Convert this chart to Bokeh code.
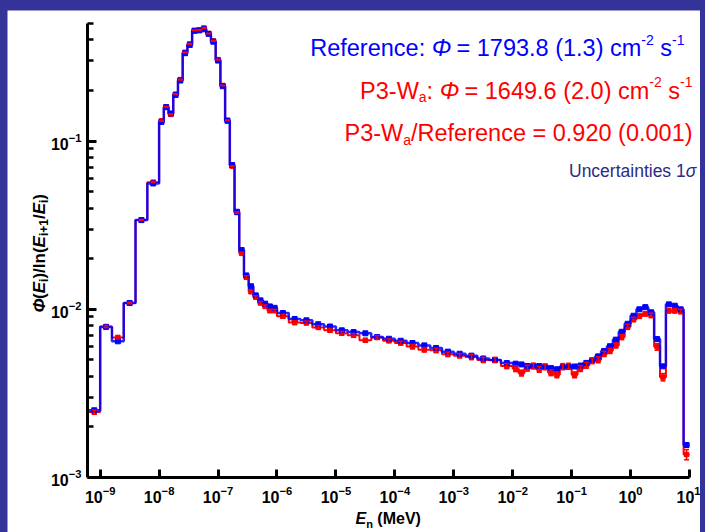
import math
from bokeh.plotting import figure
from bokeh.models import ColumnDataSource, FixedTicker, Label, Whisker, TeeHead, Range1d, LogAxis
from bokeh.layouts import column
from bokeh.embed import file_html
from bokeh.resources import INLINE

# ---------------- data ----------------
# group boundaries, log10(E / MeV)
edges_log10 = [
    -9.2, -9.0, -8.8, -8.6, -8.4, -8.2, -8.0,
    -7.92, -7.84, -7.76, -7.68, -7.60, -7.52, -7.44, -7.36, -7.28, -7.20,
    -7.12, -7.04, -6.96, -6.88, -6.80, -6.72, -6.64, -6.56, -6.48, -6.40,
    -6.32, -6.24, -6.16, -6.08, -6.00,
    -5.8, -5.6, -5.4, -5.2, -5.0, -4.8, -4.6, -4.4, -4.2, -4.0,
    -3.8, -3.6, -3.4, -3.2, -3.0, -2.8, -2.6, -2.4, -2.2, -2.0,
    -1.9, -1.8, -1.7, -1.6, -1.5, -1.4, -1.3, -1.2, -1.1, -1.0,
    -0.9, -0.8, -0.7, -0.6, -0.5, -0.4, -0.3, -0.2, -0.1, 0.0,
    0.1, 0.2, 0.3, 0.4, 0.5, 0.6, 0.7, 0.8, 0.9, 1.0,
]

# Reference spectrum (blue)
ref_flux = [
    0.00251, 0.00785, 0.00645, 0.0109, 0.0339, 0.056,
    0.130, 0.159, 0.146, 0.188, 0.229, 0.333, 0.373, 0.452, 0.455, 0.462,
    0.434, 0.390, 0.301, 0.212, 0.132, 0.072, 0.038, 0.0225, 0.0159, 0.0137,
    0.0121, 0.0113, 0.0108, 0.0104, 0.0102,
    0.0095, 0.00876, 0.0086, 0.00815, 0.0079, 0.0075, 0.00732, 0.0072, 0.00684, 0.00668,
    0.0065, 0.0063, 0.0061, 0.00589, 0.0056, 0.00544, 0.0053, 0.0051, 0.0050, 0.00479,
    0.00475, 0.0047, 0.0046, 0.0046, 0.0046, 0.00455, 0.00447, 0.0044, 0.00452, 0.00455,
    0.00457, 0.00463, 0.0048, 0.00498, 0.00525, 0.00565, 0.00603, 0.0066, 0.00735, 0.0082,
    0.00915, 0.0100, 0.0103, 0.0096, 0.00665, 0.00458, 0.0107, 0.0105, 0.0100, 0.00156,
]

# P3-Wa spectrum (red)
p3_flux = [
    0.00245, 0.0079, 0.0068, 0.0109, 0.0340, 0.0570,
    0.132, 0.160, 0.144, 0.190, 0.232, 0.337, 0.378, 0.455, 0.458, 0.470,
    0.436, 0.394, 0.305, 0.214, 0.133, 0.071, 0.0376, 0.0215, 0.0155, 0.0127,
    0.0118, 0.0109, 0.0104, 0.0098, 0.0098,
    0.0091, 0.00834, 0.0083, 0.0078, 0.0075, 0.0072, 0.0070, 0.00654, 0.0068, 0.0065,
    0.0063, 0.0060, 0.00575, 0.0057, 0.0054, 0.0053, 0.0052, 0.0050, 0.0050, 0.0046,
    0.00444, 0.00418, 0.00447, 0.0046, 0.0044, 0.00455, 0.0042, 0.00408, 0.00457, 0.00459,
    0.00408, 0.00445, 0.00465, 0.00495, 0.00501, 0.00543, 0.00566, 0.0061, 0.00684, 0.00787,
    0.0087, 0.0091, 0.0094, 0.0092, 0.00598, 0.00395, 0.0098, 0.0098, 0.0097, 0.00137,
]

# P3-Wa 1-sigma relative uncertainty (%)
p3_unc_pct = [
    3.0, 1.5, 2.0, 1.0, 0.5, 0.5,
    0.5, 0.5, 0.5, 0.5, 0.5, 0.5, 0.5, 0.5, 0.5, 0.5,
    0.5, 0.5, 0.5, 0.5, 0.5, 0.5, 1.0, 1.5, 2.0, 2.0,
    2.0, 2.0, 2.0, 2.0, 2.0,
    2.5, 2.5, 2.5, 2.5, 2.5, 2.5, 2.5, 2.5, 2.5, 2.5,
    2.5, 3.0, 3.0, 3.0, 3.0, 3.0, 3.5, 3.5, 3.5, 3.5,
    4.0, 4.0, 4.0, 4.0, 4.0, 4.0, 4.0, 4.0, 4.0, 4.0,
    4.0, 4.0, 4.0, 4.0, 4.0, 3.5, 3.5, 3.5, 3.5, 3.5,
    3.0, 3.0, 3.0, 3.0, 4.5, 5.0, 3.0, 3.0, 3.0, 7.0,
]

x_tick_values = [1e-9, 1e-8, 1e-7, 1e-6, 1e-5, 1e-4, 1e-3, 1e-2, 1e-1, 1e0, 1e1]
y_major_ticks = [1e-3, 1e-2, 1e-1]
y_minor_ticks = [2e-3, 3e-3, 4e-3, 5e-3, 6e-3, 7e-3, 8e-3, 9e-3,
                 2e-2, 3e-2, 4e-2, 5e-2, 6e-2, 7e-2, 8e-2, 9e-2,
                 0.2, 0.3, 0.4, 0.5]
x_axis_extent = (10 ** -9.215, 10.0)   # MeV
y_axis_extent = (1e-3, 0.5)

# ---------------- derived ----------------
edges = [10 ** e for e in edges_log10]
centers = [math.sqrt(a * b) for a, b in zip(edges[:-1], edges[1:])]

BLUE = "#0000ff"
RED = "#ff0000"
NAVY = "#2b2b86"
FONT = "Liberation Sans"

# white panel on the page, and where the axes sit on the page
PAN_L, PAN_T, PAN_W, PAN_H = 7, 10, 693, 522
AX_L, AX_T, AX_R, AX_B = 87, 23, 689, 477

# extend the data ranges so that the axis extents land on the axis pixels
lx0, lx1 = math.log10(x_axis_extent[0]), math.log10(x_axis_extent[1])
ly0, ly1 = math.log10(y_axis_extent[0]), math.log10(y_axis_extent[1])
dx = (lx1 - lx0) / (AX_R - AX_L)
dy = (ly1 - ly0) / (AX_B - AX_T)
x_rng = (10 ** (lx0 - (AX_L - PAN_L) * dx), 10 ** (lx1 + (PAN_L + PAN_W - AX_R) * dx))
y_rng = (10 ** (ly0 - (PAN_T + PAN_H - AX_B) * dy), 10 ** (ly1 + (AX_T - PAN_T) * dy))

p = figure(width=PAN_W, height=PAN_H, x_axis_type="log", y_axis_type="log",
           x_axis_location=None, y_axis_location=None,
           x_range=Range1d(*x_rng), y_range=Range1d(*y_rng),
           output_backend="svg", toolbar_location=None,
           min_border=0, min_border_left=0, min_border_right=0,
           min_border_top=0, min_border_bottom=0,
           background_fill_color="white", border_fill_color="white",
           outline_line_color=None)
p.margin = (PAN_T, 705 - PAN_L - PAN_W, 0, PAN_L)
p.grid.visible = False

xaxis = LogAxis(fixed_location=y_axis_extent[0], bounds=x_axis_extent,
                ticker=FixedTicker(ticks=x_tick_values, minor_ticks=[]))
yaxis = LogAxis(fixed_location=x_axis_extent[0], bounds=y_axis_extent,
                ticker=FixedTicker(ticks=y_major_ticks, minor_ticks=y_minor_ticks))
for ax in (xaxis, yaxis):
    ax.axis_line_width = 3
    ax.axis_line_color = "black"
    ax.major_tick_line_width = 3
    ax.major_tick_line_color = "black"
    ax.major_tick_out = 0
    ax.minor_tick_out = 0
    ax.minor_tick_line_width = 2.5
    ax.minor_tick_line_color = "black"
    ax.major_label_text_font = FONT
    ax.major_label_text_font_style = "bold"
    ax.major_label_text_font_size = "16px"
    ax.major_label_text_color = "black"
xaxis.major_tick_in = 8
yaxis.major_tick_in = 9
yaxis.minor_tick_in = 6
xaxis.major_label_standoff = 8
yaxis.major_label_standoff = 6
p.add_layout(xaxis, "below")
p.add_layout(yaxis, "left")

# red (P3-Wa) spectrum
p.step(x=edges, y=p3_flux + [p3_flux[-1]], mode="after", line_color=RED, line_width=2)
red_src = ColumnDataSource(dict(
    x=centers, y=p3_flux,
    lo=[v * (1 - u / 100) for v, u in zip(p3_flux, p3_unc_pct)],
    hi=[v * (1 + u / 100) for v, u in zip(p3_flux, p3_unc_pct)],
))
p.add_layout(Whisker(source=red_src, base="x", lower="lo", upper="hi",
                     line_color=RED, line_width=1.5, level="glyph",
                     upper_head=TeeHead(size=5, line_color=RED, line_width=1.5),
                     lower_head=TeeHead(size=5, line_color=RED, line_width=1.5)))
p.scatter(x="x", y="y", source=red_src, marker="square", size=4.5,
          fill_color=RED, line_color=RED)

# blue (reference) spectrum
p.step(x=edges, y=ref_flux + [ref_flux[-1]], mode="after", line_color=BLUE,
       line_width=2.5, line_alpha=0.85)
p.scatter(x=centers, y=ref_flux, marker="square", size=5, fill_color=BLUE, line_color=BLUE)

# ---------------- rich text helpers ----------------
W_REG = {' ': 278, '(': 333, ')': 333, '+': 584, '-': 333, '.': 278, '/': 278, ':': 278,
         '=': 584, 'P': 667, 'R': 722, 'U': 722, 'W': 944, 'a': 556, 'c': 500, 'e': 556,
         'f': 278, 'i': 222, 'm': 833, 'n': 556, 'r': 333, 's': 500, 't': 278,
         'Φ': 778, 'σ': 617}
W_BOLD = {' ': 278, '(': 333, ')': 333, '+': 584, '/': 278, 'E': 667, 'M': 833, 'V': 667,
          'e': 556, 'i': 278, 'l': 278, 'n': 611, 'Φ': 800}


def tw(text, size, style):
    table = W_BOLD if "bold" in style else W_REG
    return sum(table.get(ch, 556) for ch in text) * size / 1000.0


def rich(pieces, x0, baseline, color, align="left", angle=0.0):
    total = sum(tw(t, s, st) for t, s, st, d in pieces)
    start = x0 - total if align == "right" else x0
    cum = 0.0
    for t, s, st, d in pieces:
        lead = tw(t[:len(t) - len(t.lstrip(" "))], s, st)
        body = t.strip(" ")
        if body:
            along = cum + lead
            if angle == 0.0:
                px, py = start + along, baseline - d
            else:
                px, py = baseline - d, start - along
            p.add_layout(Label(x=px - PAN_L, y=PAN_T + PAN_H - py,
                               x_units="screen", y_units="screen",
                               text=body, angle=angle, text_font=FONT,
                               text_font_size=f"{s}px", text_font_style=st,
                               text_color=color, text_baseline="alphabetic",
                               text_align="left"))
        cum += tw(t, s, st)


BIG, SUP = 23.5, 14
rich([("Reference: ", BIG, "normal", 0), ("Φ", BIG, "italic", 0),
      (" = 1793.8 (1.3) cm", BIG, "normal", 0), ("-2", SUP, "normal", 8.5),
      (" s", BIG, "normal", 0), ("-1", SUP, "normal", 8.5)],
     684, 47.7, BLUE, align="right")
rich([("P3-W", BIG, "normal", 0), ("a", SUP, "normal", -6.5), (": ", BIG, "normal", 0),
      ("Φ", BIG, "italic", 0), (" = 1649.6 (2.0) cm", BIG, "normal", 0),
      ("-2", SUP, "normal", 8.5), (" s", BIG, "normal", 0), ("-1", SUP, "normal", 8.5)],
     692, 90, RED, align="right")
rich([("P3-W", BIG, "normal", 0), ("a", SUP, "normal", -6.5),
      ("/Reference = 0.920 (0.001)", BIG, "normal", 0)],
     692, 132.7, RED, align="right")
rich([("Uncertainties 1", 17.5, "normal", 0), ("σ", 17.5, "italic", 0)],
     696, 170.5, NAVY, align="right")

# axis titles
rich([("E", 16, "bold italic", 0), ("n", 11, "bold", -5), (" (MeV)", 16, "bold", 0)],
     355, 518, "black")
YL, YS = 17, 12
rich([("Φ", YL, "bold italic", 0), ("(", YL, "bold", 0), ("E", YL, "bold italic", 0),
      ("i", YS, "bold", -4), (")/ln(", YL, "bold", 0), ("E", YL, "bold italic", 0),
      ("i+1", YS, "bold", -4), ("/", YL, "bold", 0), ("E", YL, "bold italic", 0),
      ("i", YS, "bold", -4), (")", YL, "bold", 0)],
     312, 39, "black", angle=math.pi / 2)

root = column(p, styles={"background-color": "#333399"})
open("out.html", "w").write(file_html(root, INLINE))
